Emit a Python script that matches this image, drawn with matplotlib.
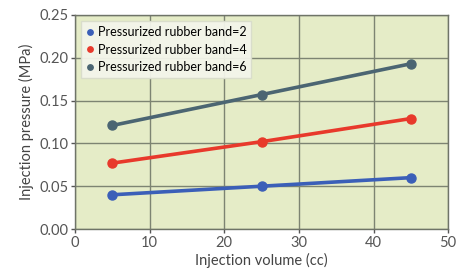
import matplotlib
matplotlib.use('Agg')
import matplotlib.pyplot as plt

plt.rcParams['font.family'] = ['Lato', 'DejaVu Sans']

volumes = [5, 25, 45]
band2 = [0.040, 0.050, 0.060]
band4 = [0.077, 0.102, 0.129]
band6 = [0.121, 0.157, 0.193]
labels = ['Pressurized rubber band=2', 'Pressurized rubber band=4', 'Pressurized rubber band=6']
colors = ['#3b5fb8', '#e8392b', '#4b6572']

fig = plt.figure(figsize=(4.61, 2.72), dpi=100)
ax = fig.add_axes([0.163, 0.158, 0.809, 0.787])
ax.set_facecolor('#e5ecc7')

for ys, lab, c in zip([band2, band4, band6], labels, colors):
    ax.plot(volumes, ys, color=c, linewidth=2.6, marker='o', markersize=6.5, label=lab, zorder=3)

ax.set_xlim(0, 50)
ax.set_ylim(0, 0.25)
ax.set_xticks([0, 10, 20, 30, 40, 50])
ax.set_yticks([0, 0.05, 0.10, 0.15, 0.20, 0.25])
ax.set_yticklabels(['0.00', '0.05', '0.10', '0.15', '0.20', '0.25'])
ax.grid(color='#7d8472', linewidth=1, zorder=1)
ax.set_axisbelow(True)
for s in ax.spines.values():
    s.set_color('#6f7468')
    s.set_linewidth(1)
ax.tick_params(labelsize=10.5, colors='#555555', length=3, width=1, pad=2)

ax.set_xlabel('Injection volume (cc)', fontsize=10.5, color='#444444', labelpad=2)
ax.set_ylabel('Injection pressure (MPa)', fontsize=10.5, color='#444444', labelpad=4)

leg = ax.legend(loc='upper left', fontsize=9, handlelength=0.6, handletextpad=0.3,
                markerscale=0.6, labelspacing=0.45, borderpad=0.4, frameon=True,
                fancybox=False, borderaxespad=0.5)
for h in leg.get_lines():
    h.set_linestyle('')
leg.get_frame().set_facecolor('#f3f5ea')
leg.get_frame().set_edgecolor('#d8dccb')
leg.get_frame().set_alpha(0.95)

fig.savefig('out.png', dpi=100)
